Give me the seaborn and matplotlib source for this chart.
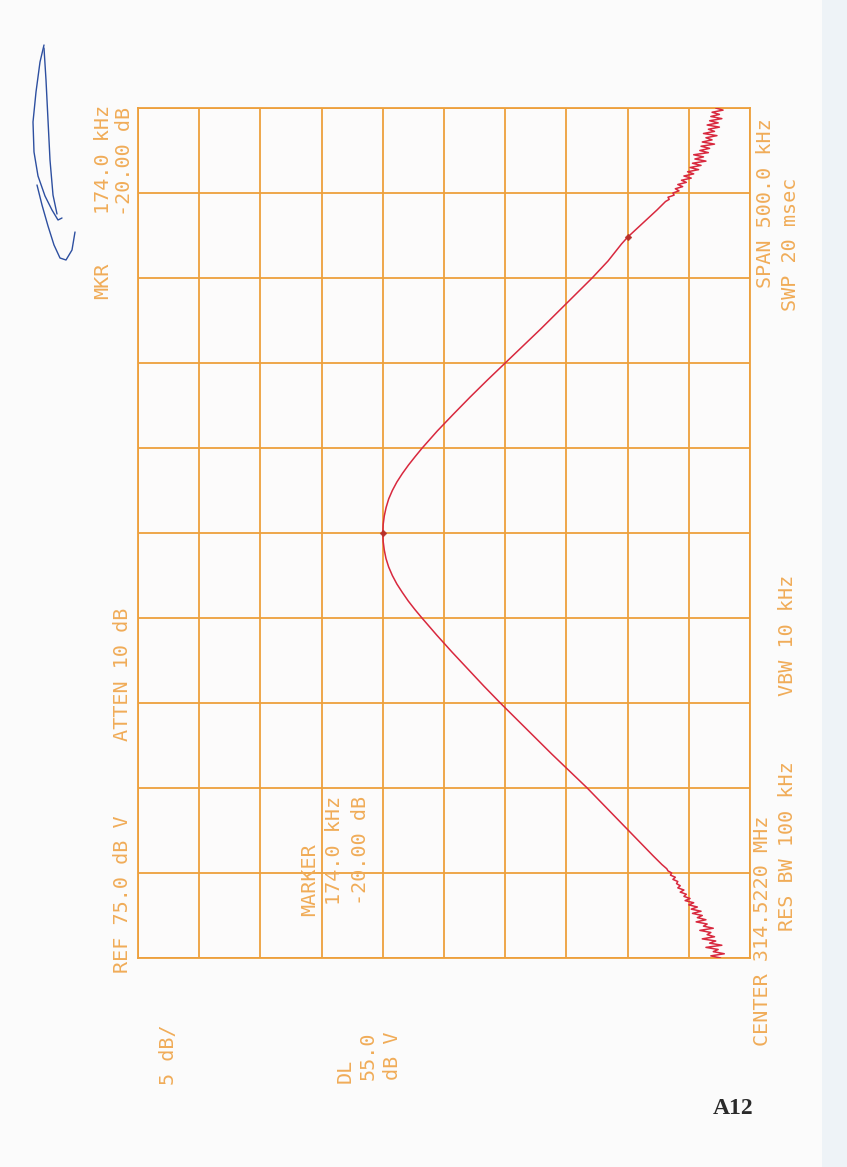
import numpy as np
import pandas as pd
import matplotlib
matplotlib.use("Agg")
import matplotlib.pyplot as plt
import seaborn as sns

# frequency offset from centre (kHz) and trace level (dBV)
lower_tail_khz = [-250, -248.75, -247.5, -246.25, -245, -243.75, -242.5, -241.25,
                  -240, -238.75, -237.5, -236.25, -235, -233.75, -232.5, -231.25,
                  -230, -228.75, -227.5, -226.25, -225, -223.75, -222.5, -221.25,
                  -220, -218.75, -217.5, -216.25, -215, -213.75, -212.5, -211.25,
                  -210, -208.75, -207.5, -206.25, -205, -203.75, -202.5, -201.25,
                  -200, -198.75, -197.5, -196.25, -195]
lower_tail_dbv = [27.4, 28.2, 27.1, 28.0, 27.6, 28.6, 27.3, 28.3,
                  27.8, 28.9, 27.9, 28.5, 28.2, 29.1, 28.0, 28.8,
                  28.5, 29.4, 28.6, 29.3, 28.9, 29.7, 29.0, 29.8,
                  29.3, 30.0, 29.6, 30.3, 29.9, 30.4, 30.2, 30.7,
                  30.4, 30.9, 30.7, 31.0, 30.9, 31.3, 31.1, 31.5,
                  31.4, 31.7, 31.8, 32.0, 32.2]

main_khz = [-190, -180, -170, -160, -150, -140, -130, -120, -110, -100,
            -90, -80, -70, -60, -55, -50, -45, -40, -35, -30,
            -25, -20, -15, -10, -5, 0, 5, 10, 15, 20,
            25, 30, 35, 40, 45, 50, 55, 60, 70, 80,
            90, 100, 110, 120, 130, 140, 150, 160, 170, 174,
            180, 190]
main_dbv = [32.9, 34.25, 35.6, 36.95, 38.3, 39.75, 41.2, 42.6, 44.0, 45.4,
            46.75, 48.05, 49.35, 50.6, 51.2, 51.8, 52.38, 52.92, 53.4, 53.85,
            54.22, 54.52, 54.74, 54.88, 54.97, 55.0, 54.97, 54.88, 54.73, 54.52,
            54.22, 53.85, 53.4, 52.9, 52.35, 51.78, 51.17, 50.55, 49.22, 47.86,
            46.45, 45.0, 43.55, 42.1, 40.7, 39.3, 37.9, 36.6, 35.5, 35.0,
            34.1, 32.6]

upper_tail_khz = [195, 196.25, 197.5, 198.75, 200, 201.25, 202.5, 203.75,
                  205, 206.25, 207.5, 208.75, 210, 211.25, 212.5, 213.75,
                  215, 216.25, 217.5, 218.75, 220, 221.25, 222.5, 223.75,
                  225, 226.25, 227.5, 228.75, 230, 231.25, 232.5, 233.75,
                  235, 236.25, 237.5, 238.75, 240, 241.25, 242.5, 243.75,
                  245, 246.25, 247.5, 248.75, 250]
upper_tail_dbv = [31.9, 31.6, 31.7, 31.2, 31.3, 30.8, 31.1, 30.5,
                  30.9, 30.2, 30.6, 29.8, 30.4, 29.6, 30.1, 29.2,
                  29.9, 29.0, 29.7, 28.6, 29.5, 28.8, 29.6, 28.4,
                  29.1, 28.3, 29.0, 27.9, 28.9, 28.1, 28.6, 27.7,
                  28.8, 27.9, 28.4, 27.5, 28.5, 27.6, 28.3, 27.3,
                  28.2, 27.5, 28.1, 27.2, 27.8]

marker_khz = [0, 174]
marker_dbv = [55.0, 35.0]

ref_level = 75
db_per_div = 5
span_khz = 500

W, H = 847, 1167
ORANGE = "#EDA03C"
TXT = "#F0AC58"
RED = "#D8283E"

sns.set_style("white")
fig = plt.figure(figsize=(W / 100, H / 100), dpi=100)
fig.patch.set_facecolor("#FBFBFB")
# scanner edge shade on the right
fig.add_artist(plt.Rectangle((822 / W, 0), 25 / W, 1, transform=fig.transFigure,
                             color="#EEF3F7", lw=0, zorder=0))

ax = fig.add_axes([138 / W, 1 - 958 / H, 612 / W, 850 / H])
ax.set_facecolor("#FCFBFB")

df = pd.DataFrame({"freq": lower_tail_khz + main_khz + upper_tail_khz,
                   "level": lower_tail_dbv + main_dbv + upper_tail_dbv})
sns.lineplot(data=df, x="level", y="freq", orient="y", sort=False, estimator=None,
             color=RED, lw=1.1, ax=ax, zorder=3)
mk = pd.DataFrame({"freq": marker_khz, "level": marker_dbv})
sns.scatterplot(data=mk, x="level", y="freq", marker="D", s=12, color="#B8302A",
                edgecolor="#B8302A", ax=ax, zorder=4)

bottom_level = ref_level - 10 * db_per_div
ax.set_xlim(ref_level, bottom_level)
ax.set_ylim(-span_khz / 2, span_khz / 2)
ax.set_xticks(np.arange(bottom_level, ref_level + 1, db_per_div))
ax.set_yticks(np.arange(-span_khz / 2, span_khz / 2 + 1, span_khz / 10))
ax.grid(True, color=ORANGE, lw=1.3)
ax.tick_params(length=0, labelbottom=False, labelleft=False)
ax.set_xlabel("")
ax.set_ylabel("")
for s in ax.spines.values():
    s.set_color(ORANGE)
    s.set_linewidth(1.3)


def ptext(x, y, s, **kw):
    fig.text(x / W, 1 - y / H, s, rotation=90, rotation_mode="anchor",
             ha="center", va="center", color=TXT, fontsize=14.5,
             family="DejaVu Sans Mono", **kw)


ptext(103, 281, "MKR")
ptext(103, 159, "174.0 kHz")
ptext(125, 161, "-20.00 dB")
ptext(122, 894, "REF 75.0 dB V")
ptext(122, 674, "ATTEN 10 dB")
ptext(168, 1055, "5 dB/")
ptext(345, 1071, "DL")
ptext(368, 1056, "55.0")
ptext(392, 1056, "dB V")
ptext(310, 880, "MARKER")
ptext(335, 850, "174.0 kHz")
ptext(360, 850, "-20.00 dB")
ptext(762, 931, "CENTER 314.5220 MHz")
ptext(787, 846, "RES BW 100 kHz")
ptext(787, 635, "VBW 10 kHz")
ptext(765, 203, "SPAN 500.0 kHz")
ptext(790, 244, "SWP 20 msec")

fig.text(733 / W, 1 - 1108 / H, "A12", ha="center", va="center", fontsize=17,
         fontweight="bold", family="Liberation Serif", color="#2A2A2A")

# pen signature, top left
sig_strokes = [
    [(44, 45), (40, 62), (36, 92), (33, 122), (34, 152), (38, 176), (45, 196),
     (52, 210), (58, 220), (62, 218)],
    [(44, 48), (46, 80), (48, 120), (50, 160), (53, 195), (57, 214)],
    [(37, 185), (42, 205), (48, 226), (54, 245), (60, 258), (66, 260),
     (72, 250), (75, 232)],
]
for stroke in sig_strokes:
    xs = [p[0] / W for p in stroke]
    ys = [1 - p[1] / H for p in stroke]
    fig.add_artist(matplotlib.lines.Line2D(xs, ys, color="#2D4FA0", lw=1.0,
                                           transform=fig.transFigure))

fig.savefig("out.png", dpi=100, facecolor=fig.get_facecolor())
